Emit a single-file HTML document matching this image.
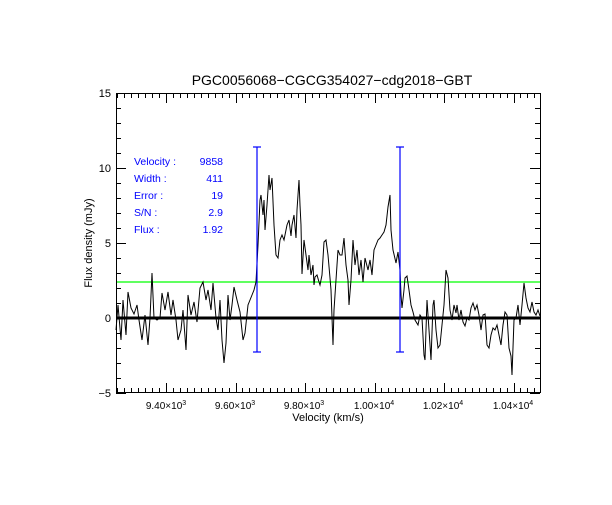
<!DOCTYPE html>
<html><head><meta charset="utf-8"><style>
body{margin:0;background:#fff}
svg text{font-family:"Liberation Sans",sans-serif}
</style></head><body>
<svg id="s" width="612" height="500" xmlns="http://www.w3.org/2000/svg">
<rect width="612" height="500" fill="#fff"/>
<g id="ticks" stroke="#000" stroke-width="1"></g>
<rect x="116.5" y="93.5" width="424" height="299" fill="none" stroke="#000"/>
<g font-size="11">
<text x="332" y="85" text-anchor="middle" font-size="14">PGC0056068−CGCG354027−cdg2018−GBT</text>
<g text-anchor="end">
<text x="111" y="97">15</text><text x="111" y="172">10</text><text x="111" y="247">5</text><text x="111" y="322">0</text><text x="111" y="397">−5</text>
</g>
<g text-anchor="middle" font-size="10">
<text x="166" y="409">9.40×10<tspan dy="-4" font-size="7">3</tspan></text>
<text x="235" y="409">9.60×10<tspan dy="-4" font-size="7">3</tspan></text>
<text x="304" y="409">9.80×10<tspan dy="-4" font-size="7">3</tspan></text>
<text x="374" y="409">1.00×10<tspan dy="-4" font-size="7">4</tspan></text>
<text x="443" y="409">1.02×10<tspan dy="-4" font-size="7">4</tspan></text>
<text x="513" y="409">1.04×10<tspan dy="-4" font-size="7">4</tspan></text>
</g>
<text x="328" y="421" text-anchor="middle">Velocity (km/s)</text>
<text transform="translate(92,243) rotate(-90)" text-anchor="middle">Flux density (mJy)</text>
</g>
<line x1="117" y1="282" x2="540" y2="282" stroke="#0f0" stroke-width="1.2"/>
<line x1="117" y1="318" x2="540" y2="318" stroke="#000" stroke-width="3"/>
<polyline id="d" fill="none" stroke="#000" stroke-width="1"/>
<g stroke="#00f" stroke-width="1.2">
<line x1="257" y1="147" x2="257" y2="352"/><line x1="253" y1="147" x2="261" y2="147"/><line x1="253" y1="352" x2="261" y2="352"/>
<line x1="400" y1="147" x2="400" y2="352"/><line x1="396" y1="147" x2="404" y2="147"/><line x1="396" y1="352" x2="404" y2="352"/>
</g>
<g fill="#00f" font-size="10.5">
<text x="134" y="165">Velocity :</text><text x="223" y="165" text-anchor="end">9858</text>
<text x="134" y="182">Width :</text><text x="223" y="182" text-anchor="end">411</text>
<text x="134" y="199">Error :</text><text x="223" y="199" text-anchor="end">19</text>
<text x="134" y="216">S/N :</text><text x="223" y="216" text-anchor="end">2.9</text>
<text x="134" y="233">Flux :</text><text x="223" y="233" text-anchor="end">1.92</text>
</g>
</svg>
<script>
var p=[116,330,118,305,121,340,123,300,126,335,128,292,131,308,134,314,137,305,139,320,142,340,145,315,148,345,150,318,152,273,154,318,157,320,160,318,162,293,165,310,168,292,171,315,173,300,176,320,178,340,181,330,183,310,186,350,188,295,191,315,194,302,197,322,200,288,203,282,206,300,208,290,211,310,213,283,216,318,218,330,220,300,222,340,224,363,226,343,228,295,230,320,232,305,234,287,237,300,240,312,243,340,245,333,248,305,250,300,252,295,254,290,256,282,258,245,260,200,261,195,263,215,264,200,265,230,267,205,269,175,270,190,272,178,274,225,276,255,278,258,280,240,282,235,284,240,286,230,287,225,289,220,291,236,292,225,294,215,296,238,297,210,299,180,300,205,301,225,302,274,304,240,306,255,308,270,309,255,311,275,313,265,314,285,315,277,317,275,319,282,320,285,322,275,324,242,326,240,328,255,330,278,331,290,333,345,334,310,336,280,338,250,340,255,342,255,344,238,346,265,348,280,349,305,351,280,353,240,355,265,357,250,359,275,361,260,363,282,365,258,368,270,370,260,372,275,374,250,376,245,378,240,380,238,382,235,384,232,386,225,388,207,390,195,391,230,393,250,396,263,398,252,400,270,401,295,402,308,404,290,405,278,407,276,409,290,411,305,413,312,415,320,418,325,420,315,422,318,424,355,425,360,427,300,429,330,431,360,433,305,434,300,436,330,438,348,440,345,442,325,444,305,446,270,448,278,450,310,452,320,454,305,456,313,457,305,459,320,461,310,463,322,465,326,467,318,469,320,471,308,473,303,475,310,477,305,479,315,481,330,483,315,485,314,487,345,489,348,491,335,493,328,495,330,497,325,499,335,501,345,503,325,505,312,507,315,509,348,511,356,512,375,514,320,516,318,518,305,520,325,522,305,524,283,526,298,528,308,530,312,532,302,534,312,536,315,538,310,540,316];
var s='';for(var i=0;i<p.length;i+=2)s+=p[i]+','+p[i+1]+' ';
document.getElementById('d').setAttribute('points',s);
var g=document.getElementById('ticks'),h='';
for(var v=-5;v<=15;v++){var y=318-v*15+0.5,L=(v%5==0)?10:5;h+='<line x1="116" y1="'+y+'" x2="'+(116+L)+'" y2="'+y+'"/><line x1="540" y1="'+y+'" x2="'+(540-L)+'" y2="'+y+'"/>';}
for(var u=9260;u<=10470;u+=20){var x=Math.round(166+(u-9400)*0.3475)+0.5,L=(u%200==0)?10:5;h+='<line x1="'+x+'" y1="393" x2="'+x+'" y2="'+(393-L)+'"/><line x1="'+x+'" y1="93" x2="'+x+'" y2="'+(93+L)+'"/>';}
g.innerHTML=h;
</script>
</body></html>
